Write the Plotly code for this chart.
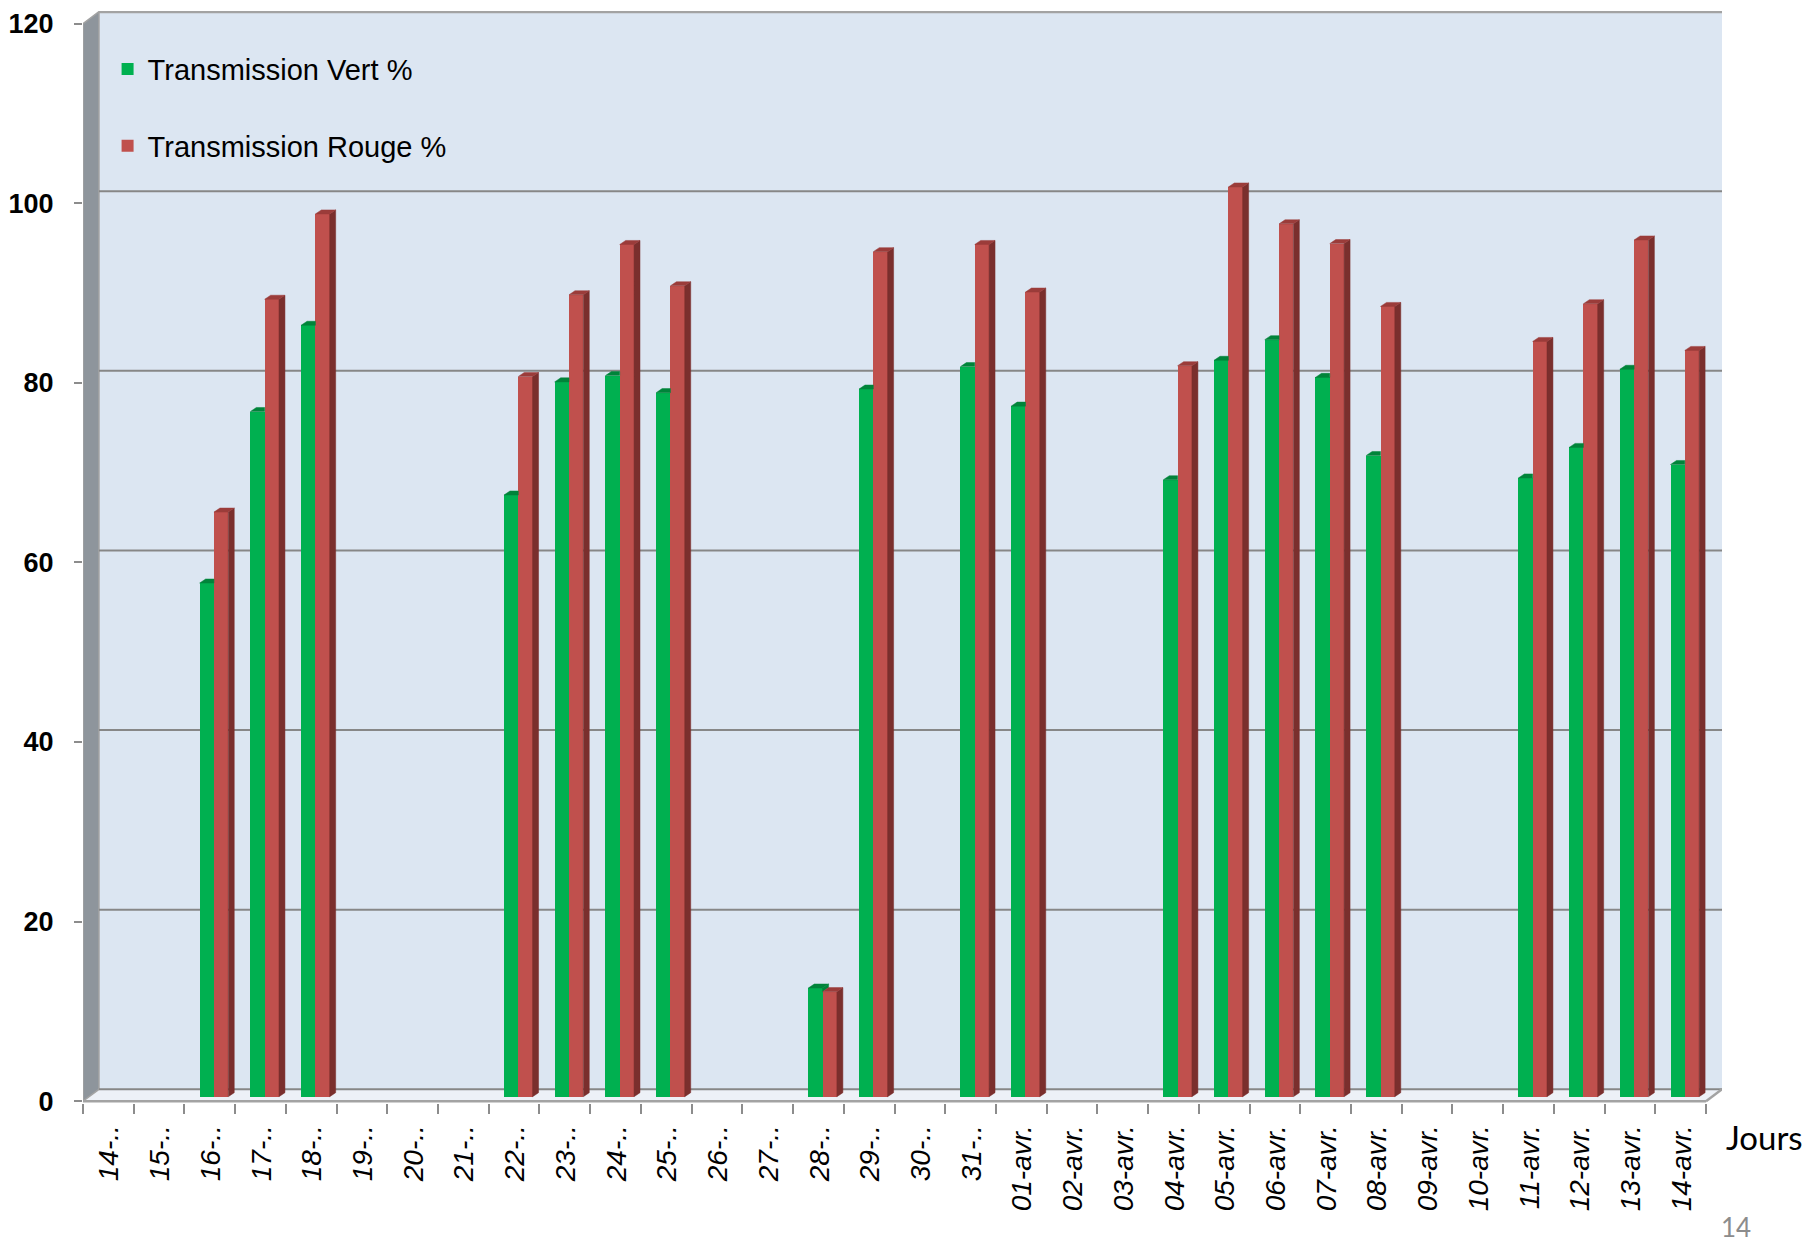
import plotly.graph_objects as go

# Daily transmission readings (%), 14 March -> 14 April
days = ["14-..", "15-..", "16-..", "17-..", "18-..", "19-..", "20-..", "21-..",
        "22-..", "23-..", "24-..", "25-..", "26-..", "27-..", "28-..", "29-..",
        "30-..", "31-..", "01-avr.", "02-avr.", "03-avr.", "04-avr.", "05-avr.",
        "06-avr.", "07-avr.", "08-avr.", "09-avr.", "10-avr.", "11-avr.",
        "12-avr.", "13-avr.", "14-avr."]
vert = [None, None, 57.2, 76.3, 85.9, None, None, None,
        67.0, 79.6, 80.3, 78.4, None, None, 12.1, 78.8,
        None, 81.3, 76.9, None, None, 68.7, 82.0,
        84.3, 80.1, 71.4, None, None, 68.9,
        72.3, 81.0, 70.4]
rouge = [None, None, 65.1, 88.8, 98.3, None, None, None,
         80.2, 89.3, 94.9, 90.3, None, None, 11.7, 94.1,
         None, 94.9, 89.6, None, None, 81.4, 101.3,
         97.2, 95.0, 88.0, None, None, 84.1,
         88.3, 95.4, 83.1]
y_ticks = [0, 20, 40, 60, 80, 100, 120]

# pseudo-3D geometry (axis units)
N = len(days)
WALL_DX, WALL_DY = 0.315, 1.33      # depth of the box (back wall offset)
BASE = 0.5                          # bar foot, mid-depth
BAR_W = 0.282
G_OFF = 0.30
R_OFF = G_OFF + BAR_W
SIDE_DX, SIDE_DY = 0.118, 0.45      # bar depth

GREEN, GREEN_TOP = "#00b050", "#00843a"
RED, RED_SIDE, RED_TOP = "#c0504d", "#7a2f2d", "#9b3c3a"
WALL, SIDE_WALL, FLOOR = "#dce6f2", "#8e959c", "#edf1f7"
GRID, EDGE = "#878787", "#a3a3a3"
FONT = "Liberation Sans, Arial, sans-serif"


def polys(items):
    xs, ys = [], []
    for pts in items:
        for px, py in pts:
            xs.append(px)
            ys.append(py)
        xs.append(pts[0][0])
        ys.append(pts[0][1])
        xs.append(None)
        ys.append(None)
    return xs, ys


green_caps, green_sides, red_caps, red_sides = [], [], [], []
for i, (g, r) in enumerate(zip(vert, rouge)):
    if g is not None:
        x0, x1, t = i + G_OFF, i + R_OFF, BASE + g
        if r is not None and r > g:
            green_caps.append([(x0, t), (x0 + SIDE_DX, t + SIDE_DY),
                               (x1, t + SIDE_DY), (x1, t)])
        else:
            green_caps.append([(x0, t), (x0 + SIDE_DX, t + SIDE_DY),
                               (x1 + SIDE_DX, t + SIDE_DY), (x1, t)])
            low = BASE + (r if r is not None else 0)
            green_sides.append([(x1, low), (x1, t), (x1 + SIDE_DX, t + SIDE_DY),
                                (x1 + SIDE_DX, low + SIDE_DY)])
    if r is not None:
        x0, x1, t = i + R_OFF, i + R_OFF + BAR_W, BASE + r
        red_caps.append([(x0, t), (x0 + SIDE_DX, t + SIDE_DY),
                         (x1 + SIDE_DX, t + SIDE_DY), (x1, t)])
        red_sides.append([(x1, BASE), (x1 + SIDE_DX, BASE + SIDE_DY),
                          (x1 + SIDE_DX, t + SIDE_DY), (x1, t)])

fig = go.Figure()

fig.add_trace(go.Bar(
    x=[i + G_OFF for i in range(N)], y=vert, base=BASE, width=BAR_W, offset=0,
    marker=dict(color=GREEN, line=dict(width=0)),
    name="Transmission Vert %", legendgroup="v", hoverinfo="skip"))
fig.add_trace(go.Bar(
    x=[i + R_OFF for i in range(N)], y=rouge, base=BASE, width=BAR_W, offset=0,
    marker=dict(color=RED, line=dict(width=0)),
    name="Transmission Rouge %", legendgroup="r", hoverinfo="skip"))

for items, color in [(green_sides, GREEN_TOP), (green_caps, GREEN_TOP),
                     (red_sides, RED_SIDE), (red_caps, RED_TOP)]:
    if not items:
        continue
    xs, ys = polys(items)
    fig.add_trace(go.Scatter(x=xs, y=ys, mode="lines", fill="toself",
                             fillcolor=color, line=dict(color=color, width=0.5),
                             showlegend=False, hoverinfo="skip"))

# box: back wall, floor, left wall, gridlines
shapes = [
    dict(type="rect", x0=WALL_DX, x1=N + WALL_DX, y0=WALL_DY, y1=120 + WALL_DY,
         fillcolor=WALL, line=dict(width=0), layer="below"),
    dict(type="path",
         path=f"M0,0 L{N},0 L{N + WALL_DX},{WALL_DY} L{WALL_DX},{WALL_DY} Z",
         fillcolor=FLOOR, line=dict(width=0), layer="below"),
    dict(type="path",
         path=f"M0,0 L{WALL_DX},{WALL_DY} L{WALL_DX},{120 + WALL_DY} L0,120 Z",
         fillcolor=SIDE_WALL, line=dict(color=EDGE, width=1.5), layer="below"),
]
for v in y_ticks[:-1]:
    shapes.append(dict(type="line", x0=WALL_DX, x1=N + WALL_DX,
                       y0=v + WALL_DY, y1=v + WALL_DY,
                       line=dict(color=GRID, width=2), layer="below"))
shapes.append(dict(type="line", x0=WALL_DX, x1=N + WALL_DX,
                   y0=120 + WALL_DY, y1=120 + WALL_DY,
                   line=dict(color=EDGE, width=3), layer="below"))
shapes.append(dict(type="line", x0=0, x1=N, y0=0, y1=0,
                   line=dict(color=EDGE, width=2.5), layer="below"))
shapes.append(dict(type="line", x0=N, x1=N + WALL_DX, y0=0, y1=WALL_DY,
                   line=dict(color=EDGE, width=2.5), layer="below"))

fig.update_layout(
    width=1806, height=1244, autosize=False,
    margin=dict(l=82, r=84, t=9, b=141),
    paper_bgcolor="white", plot_bgcolor="rgba(0,0,0,0)",
    barmode="overlay", bargap=0,
    font=dict(family=FONT, color="black"),
    shapes=shapes,
    showlegend=True,
    legend=dict(x=0.015, y=0.97, xanchor="left", yanchor="top",
                bgcolor="rgba(0,0,0,0)", font=dict(size=29, family=FONT),
                tracegroupgap=36, traceorder="grouped"),
    xaxis=dict(range=[0, N + WALL_DX], showgrid=False, zeroline=False,
               showline=False, tickmode="array",
               tickvals=[i + 0.52 for i in range(N)], ticktext=days,
               tickangle=-90, ticks="outside", ticklen=10,
               tickcolor="rgba(0,0,0,0)",
               tickfont=dict(size=28, style="italic", family=FONT),
               minor=dict(tickmode="array", tickvals=list(range(N + 1)),
                          ticks="outside", ticklen=10, tickwidth=2,
                          tickcolor="#8c8c8c", showgrid=False)),
    yaxis=dict(range=[-0.2, 121.4], showgrid=False, zeroline=False,
               showline=False, tickmode="array", tickvals=y_ticks,
               ticktext=[str(v) for v in y_ticks],
               ticks="outside", ticklen=8, tickwidth=2, tickcolor="#8c8c8c",
               ticklabelstandoff=15,
               tickfont=dict(size=27, weight="bold", family=FONT)),
    annotations=[
        dict(text="Jours", xref="paper", yref="paper", x=1.0015, y=-0.031,
             xanchor="left", yanchor="middle", showarrow=False,
             font=dict(size=33, family="Lato, Open Sans, sans-serif", color="black")),
        dict(text="14", xref="paper", yref="paper", x=1.0085, y=-0.114,
             xanchor="center", yanchor="middle", showarrow=False,
             font=dict(size=26, family="Lato, Open Sans, sans-serif", color="#8c8c8c")),
    ],
)

fig.write_html("out.html")
